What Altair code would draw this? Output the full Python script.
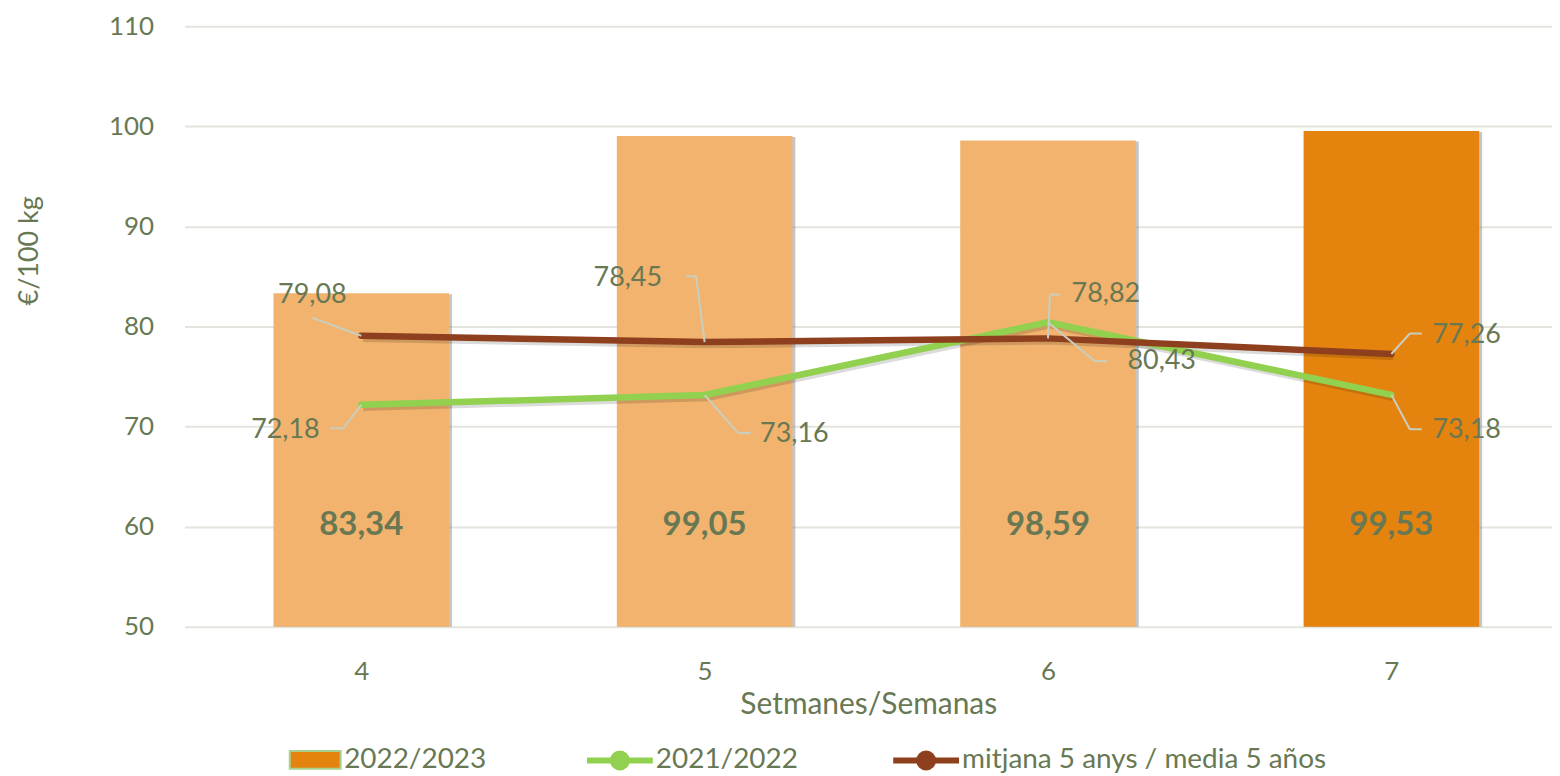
import altair as alt
import pandas as pd

# ---------------- data ----------------
weeks = [4, 5, 6, 7]
current_week = 7
bars_2022_2023 = [83.34, 99.05, 98.59, 99.53]
line_2021_2022 = [72.18, 73.16, 80.43, 73.18]
line_mitjana = [79.08, 78.45, 78.82, 77.26]
y_ticks = [50, 60, 70, 80, 90, 100, 110]

LBL_BAR = "2022/2023"
LBL_2122 = "2021/2022"
LBL_MIT = "mitjana 5 anys / media 5 años"

# ---------------- style ----------------
TEXT = "#687853"
LIGHT = "#F2B36E"
DARK = "#E5830F"
GREEN = "#92D050"
BROWN = "#8E3F1E"
GRID = "#E4E4DE"
LEADER = "#C9CFBF"
FONT = "Lato"


def fmt(v):
    return f"{v:.2f}".replace(".", ",")


bars_df = pd.DataFrame({
    "week": weeks,
    "value": bars_2022_2023,
    "grp": [LBL_BAR if w == current_week else "prev" for w in weeks],
    "label": [fmt(v) for v in bars_2022_2023],
})
lines_df = pd.DataFrame({
    "week": weeks * 2,
    "value": line_2021_2022 + line_mitjana,
    "serie": [LBL_2122] * len(weeks) + [LBL_MIT] * len(weeks),
    "label": [fmt(v) for v in line_2021_2022 + line_mitjana],
})

XSCALE = alt.Scale(domain=[3.5, 7.4533], nice=False, zero=False)
YSCALE = alt.Scale(domain=[50, 110], nice=False, zero=False)
XAXIS = alt.Axis(values=weeks, format="d", title="Setmanes/Semanas",
                 titleFont=FONT, titleFontSize=30, titleFontWeight="normal",
                 titleColor=TEXT, titleY=63, titleBaseline="top",
                 labelFont=FONT, labelFontSize=26, labelColor=TEXT,
                 labelPadding=32, ticks=False, domain=False, grid=False)
YAXIS = alt.Axis(values=y_ticks, title="€/100 kg",
                 titleFont=FONT, titleFontSize=27, titleFontWeight="normal",
                 titleColor=TEXT, titleX=-155, titleY=224.6, titleAngle=270,
                 titleAlign="center", titleBaseline="middle",
                 labelFont=FONT, labelFontSize=26, labelColor=TEXT,
                 labelPadding=31, ticks=False, domain=False,
                 gridColor=GRID, gridWidth=2)


def X():
    return alt.X("week:Q", scale=XSCALE, axis=XAXIS)


def Y():
    return alt.Y("value:Q", scale=YSCALE, axis=YAXIS)


bar_legend = alt.Legend(
    values=[LBL_BAR], title=None, orient="none", legendX=104.5, legendY=709,
    direction="horizontal", padding=0,
    symbolType="M-1,-0.35L1,-0.35L1,0.35L-1,0.35Z", symbolSize=2601,
    symbolStrokeColor="#A9D18E", symbolStrokeWidth=2, symbolOffset=0,
    labelOffset=2.5, labelFont=FONT, labelFontSize=28, labelColor=TEXT,
    labelLimit=800)

LINE_SYMBOL = ("M-3.3,0L3.3,0"
               "M0.7,0A0.7,0.7,0,1,1,-0.7,0A0.7,0.7,0,1,1,0.7,0"
               "M0.4,0A0.4,0.4,0,1,1,-0.4,0A0.4,0.4,0,1,1,0.4,0"
               "M0.1,0A0.1,0.1,0,1,1,-0.1,0A0.1,0.1,0,1,1,0.1,0")
line_legend = alt.Legend(
    title=None, orient="none", legendX=403, legendY=722,
    direction="horizontal", padding=0, columnPadding=82,
    symbolType=LINE_SYMBOL, symbolSize=400, symbolStrokeWidth=6,
    symbolOffset=19.5, labelOffset=22, labelFont=FONT, labelFontSize=28,
    labelColor=TEXT, labelLimit=800)

STROKE = alt.Stroke("serie:N",
                    scale=alt.Scale(domain=[LBL_2122, LBL_MIT], range=[GREEN, BROWN]),
                    legend=line_legend)

layers = []

# bar shadows
layers.append(alt.Chart(bars_df).mark_bar(
    size=176, color="#7f7f7f", opacity=0.45, xOffset=3, yOffset=1, clip=True
).encode(x=X(), y=Y()))

# bars
layers.append(alt.Chart(bars_df).mark_bar(size=176, clip=True).encode(
    x=X(), y=Y(),
    color=alt.Color("grp:N", scale=alt.Scale(domain=[LBL_BAR, "prev"], range=[DARK, LIGHT]),
                    legend=bar_legend)))

# line shadows
layers.append(alt.Chart(lines_df).mark_line(
    color="#000000", opacity=0.14, strokeWidth=6.5, xOffset=2, yOffset=3
).encode(x=X(), y=Y(), detail="serie:N"))

# lines (brown on top)
for serie in [LBL_2122, LBL_MIT]:
    layers.append(alt.Chart(lines_df).transform_filter(alt.datum.serie == serie).mark_line(
        strokeWidth=6.5, strokeCap="round", strokeJoin="round"
    ).encode(x=X(), y=Y(), stroke=STROKE))

# data labels with leader lines (pixel offsets from each point)
LABEL_LAYOUT = [
    (LBL_MIT, 4, (-49, -41), [(0, 0), (-49, -18)]),
    (LBL_2122, 4, (-76, 25), [(0, 0), (-18, 23.5), (-31, 23.5)]),
    (LBL_MIT, 5, (-77, -64), [(0, 0), (-8.5, -66), (-18.5, -66)]),
    (LBL_2122, 5, (90, 39), [(0, 0), (33.5, 38), (46.5, 38)]),
    (LBL_MIT, 6, (58, -44), [(0, 0), (2, -44), (12, -44)]),
    (LBL_2122, 6, (114, 39), [(0, 0), (47, 39), (59, 39)]),
    (LBL_MIT, 7, (75.5, -19), [(0, 0), (18.5, -20.5), (30.5, -20.5)]),
    (LBL_2122, 7, (75.5, 35), [(0, 0), (18.5, 34.5), (30.5, 34.5)]),
]
for serie, wk, (tdx, tdy), path in LABEL_LAYOUT:
    base = alt.Chart(lines_df).transform_filter(
        (alt.datum.serie == serie) & (alt.datum.week == wk))
    for (ax, ay), (bx, by) in zip(path[:-1], path[1:]):
        layers.append(base.mark_rule(
            color=LEADER, strokeWidth=2,
            xOffset=ax, yOffset=ay, x2Offset=bx, y2Offset=by
        ).encode(x=X(), y=Y(), x2="week:Q", y2="value:Q"))
    layers.append(base.mark_text(
        dx=tdx, dy=tdy, font=FONT, fontSize=27, color=TEXT,
        align="center", baseline="middle"
    ).encode(x=X(), y=Y(), text="label:N"))

# bar value labels
layers.append(alt.Chart(bars_df).mark_text(
    font=FONT, fontSize=33, fontWeight="bold", color=TEXT,
    align="center", baseline="middle"
).encode(x=X(), y=alt.YDatum(60.2, type="quantitative", scale=YSCALE, axis=YAXIS),
         text="label:N"))

chart = alt.layer(*layers).properties(
    width=1371, height=602,
    padding={"left": 177, "top": 17.4, "right": 0, "bottom": 148.6},
    autosize=alt.AutoSizeParams(type="none"),
    background="white",
).configure_view(stroke=None)

chart.save("out.html", embed_options={"renderer": "svg", "actions": False})
